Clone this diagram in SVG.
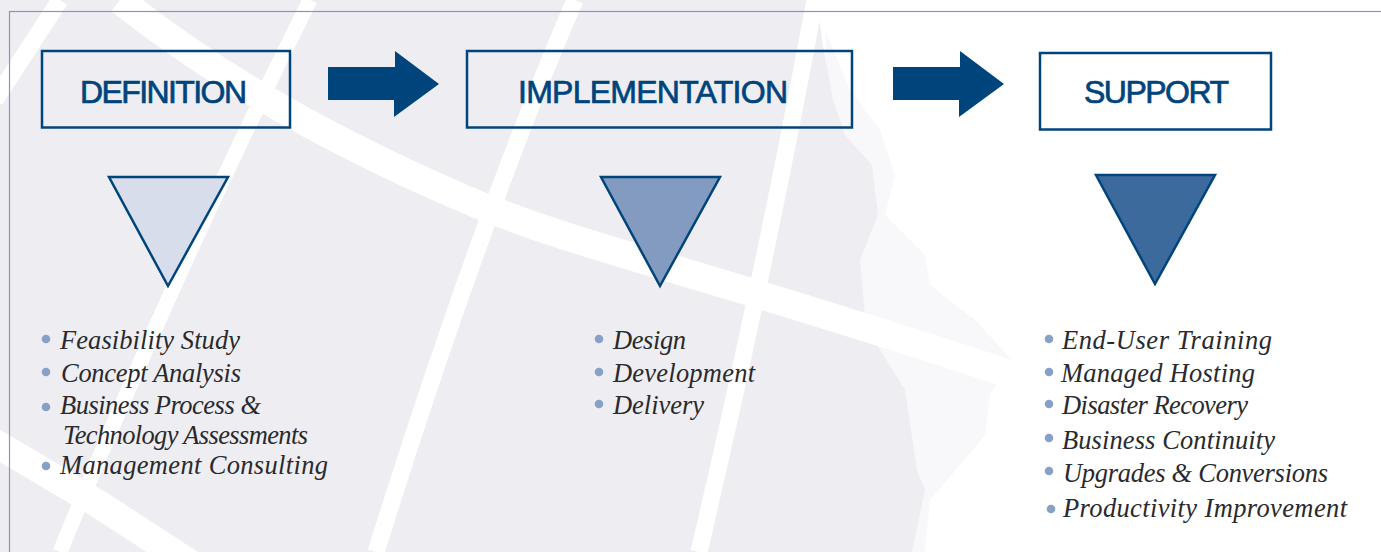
<svg xmlns="http://www.w3.org/2000/svg" width="1381" height="552" viewBox="0 0 1381 552">
<style>
.box{fill:none;stroke:#00447c;stroke-width:2.5}
.tri{stroke:#00447c;stroke-width:2.5;stroke-linejoin:miter}
.arrow{fill:#00447c}
.title{font-family:"Liberation Sans",Arial,sans-serif;font-size:32px;fill:#00447c;stroke:#00447c;stroke-width:.7px}
.item{font-family:"Liberation Serif","Times New Roman",serif;font-style:italic;font-size:26.500px;fill:#2a2a2e}
.dot{fill:#87a0c6}
.road{fill:none;stroke:#fff;stroke-linejoin:round}
</style>
<rect width="1381" height="552" fill="#fff"/>
<g id="map">
<path fill="#f8f8fb" d="M825 30L850 90L880 130L895 175L885 215L925 255L930 285L975 320L1012 360L990 395L985 435L960 465L930 500L925 552H900L880 400L860 300L830 150Z"/>
<path fill="#eeeef2" d="M0 0H817L822 40L833 100L845 135L872 165L878 215L860 260L866 327L905 390L917 470L925 490L912 552H0Z"/>
<g class="road">
<path stroke-width="28" d="M120 0C220 80 340 145 460 197S700 270 1040 384"/>
<path stroke-width="28" d="M-10 440L100 505L200 570"/>
<path stroke-width="17" d="M60 0L-5 100"/>
<path stroke-width="15" d="M310 0Q175 270 60 552"/>
<path stroke-width="17" d="M575 0Q480 220 376 552"/>
<path stroke-width="17" d="M815 0Q765 270 699 552"/>
</g>
</g>
<g id="connectors">
<path id="arrow1" class="arrow" d="M328 67H395V51L439 84L394 117V100H328Z"/>
<path id="arrow2" class="arrow" d="M893 67H960V51L1004 84L959 117V100H893Z"/>
</g>
<rect id="frame" x="9.500" y="11.500" width="1375" height="545" fill="none" stroke="#7f98c3" stroke-width="1.200"/>
<g id="definition"><rect class="box" x="42" y="51" width="248" height="76.500"/><text class="title" x="80" y="103" textLength="167">DEFINITION</text></g>
<g id="implementation"><rect class="box" x="467" y="51" width="385" height="76.500"/><text class="title" x="518" y="103" textLength="270">IMPLEMENTATION</text></g>
<g id="support"><rect class="box" x="1040" y="53" width="231" height="76.500"/><text class="title" x="1084" y="103" textLength="145">SUPPORT</text></g>
<g id="tri-definition"><path class="tri" fill="#d7ddeb" d="M109 177H228L168 286Z"/></g>
<g id="tri-implementation"><path class="tri" fill="#839bc1" d="M601 177H720L660 286Z"/></g>
<g id="tri-support"><path class="tri" fill="#3c6a9c" d="M1096 175H1215L1155 284Z"/></g>
<g id="list-definition">
<circle class="dot" cx="46" cy="339" r="4.300"/><text class="item" x="60" y="349" textLength="180">Feasibility Study</text>
<circle class="dot" cx="46" cy="372" r="4.300"/><text class="item" x="61" y="382" textLength="180">Concept Analysis</text>
<circle class="dot" cx="46" cy="407" r="4.300"/><text class="item" x="60" y="414" textLength="201">Business Process &amp;</text>
<text class="item" x="63" y="444" textLength="245">Technology Assessments</text>
<circle class="dot" cx="46" cy="466" r="4.300"/><text class="item" x="60" y="474" textLength="268">Management Consulting</text>
</g>
<g id="list-implementation">
<circle class="dot" cx="599" cy="339" r="4.300"/><text class="item" x="613" y="349" textLength="73">Design</text>
<circle class="dot" cx="599" cy="372" r="4.300"/><text class="item" x="613" y="382" textLength="142">Development</text>
<circle class="dot" cx="599" cy="404" r="4.300"/><text class="item" x="613" y="414" textLength="91">Delivery</text>
</g>
<g id="list-support">
<circle class="dot" cx="1049" cy="339" r="4.300"/><text class="item" x="1062" y="349" textLength="210">End-User Training</text>
<circle class="dot" cx="1049" cy="372" r="4.300"/><text class="item" x="1061" y="382" textLength="194">Managed Hosting</text>
<circle class="dot" cx="1049" cy="404" r="4.300"/><text class="item" x="1062" y="414" textLength="186">Disaster Recovery</text>
<circle class="dot" cx="1049" cy="438" r="4.300"/><text class="item" x="1062" y="449" textLength="213">Business Continuity</text>
<circle class="dot" cx="1049" cy="471" r="4.300"/><text class="item" x="1063" y="482" textLength="265">Upgrades &amp; Conversions</text>
<circle class="dot" cx="1051" cy="509" r="4.300"/><text class="item" x="1063" y="517" textLength="284">Productivity Improvement</text>
</g>
</svg>
